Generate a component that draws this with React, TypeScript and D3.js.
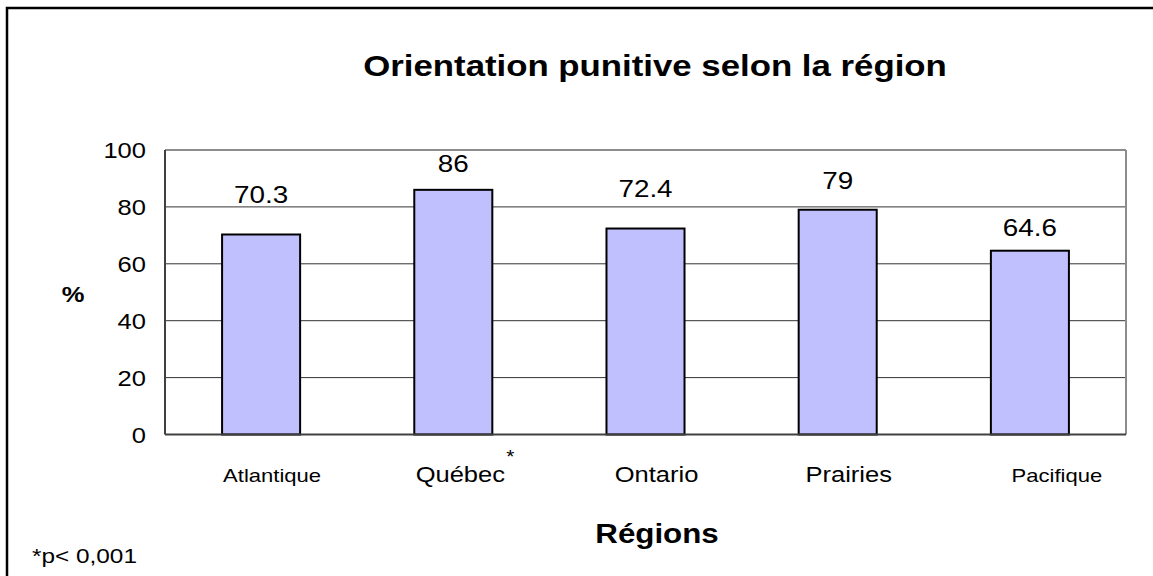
import * as d3 from "d3";
import React, { useEffect } from "react";

// data
const categories = ["Atlantique", "Québec", "Ontario", "Prairies", "Pacifique"];
const values = [70.3, 86, 72.4, 79, 64.6];
const valueLabels = ["70.3", "86", "72.4", "79", "64.6"];
const significant = [false, true, false, false, false];
const yTicks = [0, 20, 40, 60, 80, 100];

// per-label placement tweaks (the source chart is not quite regular)
const catLabelDx = [11, 7, 11, 11, 27];
const catLabelSize = [19, 22, 22, 22, 19];
const valueLabelLift = [31, 18, 32, 21, 15];

const W = 1153;
const H = 576;
const SX = 1.16; // the reference is stretched horizontally
const FONT = "'Liberation Sans', Arial, sans-serif";

const plot = { left: 165, right: 1126, top: 150, bottom: 434.5 };

function SText({ x, y, size, bold, anchor = "middle", children }: any) {
  return (
    <text
      transform={`translate(${x},${y}) scale(${SX},1)`}
      textAnchor={anchor}
      fontFamily={FONT}
      fontSize={size}
      fontWeight={bold ? "bold" : "normal"}
      fill="#000"
    >
      {children}
    </text>
  );
}

export default function App() {
  useEffect(() => {
    document.body.style.margin = "0";
  }, []);

  const x = d3
    .scaleBand<string>()
    .domain(categories)
    .range([plot.left, plot.right])
    .paddingInner(0.594)
    .paddingOuter(0.297);

  const y = d3.scaleLinear().domain([0, 100]).range([plot.bottom, plot.top]);

  return (
    <svg width={W} height={H} style={{ display: "block", background: "#fff" }}>
      {/* outer frame, only the left and top edges fall inside the picture */}
      <rect x={7} y={8} width={W + 20} height={H + 20} fill="none" stroke="#000" strokeWidth={2.5} />

      <SText x={655} y={76} size={30} bold>
        Orientation punitive selon la région
      </SText>

      {/* gridlines */}
      {yTicks.slice(1, -1).map((t) => (
        <line key={t} x1={plot.left} x2={plot.right} y1={y(t)} y2={y(t)} stroke="#333" strokeWidth={1} />
      ))}

      {/* plot border */}
      <line x1={plot.left} x2={plot.right} y1={plot.top} y2={plot.top} stroke="#8c8c8c" strokeWidth={2} />
      <line x1={plot.right} x2={plot.right} y1={plot.top} y2={plot.bottom} stroke="#8c8c8c" strokeWidth={2} />

      {/* bars */}
      {categories.map((c, i) => (
        <rect
          key={c}
          x={x(c)}
          y={y(values[i])}
          width={x.bandwidth()}
          height={plot.bottom - y(values[i])}
          fill="#c0c0ff"
          stroke="#000"
          strokeWidth={2}
        />
      ))}

      <line x1={plot.left} x2={plot.left} y1={plot.top} y2={plot.bottom} stroke="#404040" strokeWidth={2} />
      <line x1={plot.left} x2={plot.right} y1={plot.bottom} y2={plot.bottom} stroke="#404040" strokeWidth={2} />

      {/* value labels */}
      {categories.map((c, i) => (
        <SText key={c} x={(x(c) as number) + x.bandwidth() / 2} y={y(values[i]) - valueLabelLift[i]} size={24}>
          {valueLabels[i]}
        </SText>
      ))}

      {/* y tick labels */}
      {yTicks.map((t) => (
        <SText key={t} x={146} y={y(t) + 8} size={22} anchor="end">
          {t}
        </SText>
      ))}

      {/* category labels */}
      {categories.map((c, i) => {
        const cx = (x(c) as number) + x.bandwidth() / 2 + catLabelDx[i];
        return (
          <g key={c}>
            <SText x={cx} y={482} size={catLabelSize[i]}>
              {c}
            </SText>
            {significant[i] && (
              <SText x={cx + 50} y={463} size={18}>
                *
              </SText>
            )}
          </g>
        );
      })}

      <SText x={73} y={302} size={22} bold>
        %
      </SText>
      <SText x={657} y={543} size={27} bold>
        Régions
      </SText>
      <SText x={32} y={563} size={21} anchor="start">
        *p&lt; 0,001
      </SText>
    </svg>
  );
}
